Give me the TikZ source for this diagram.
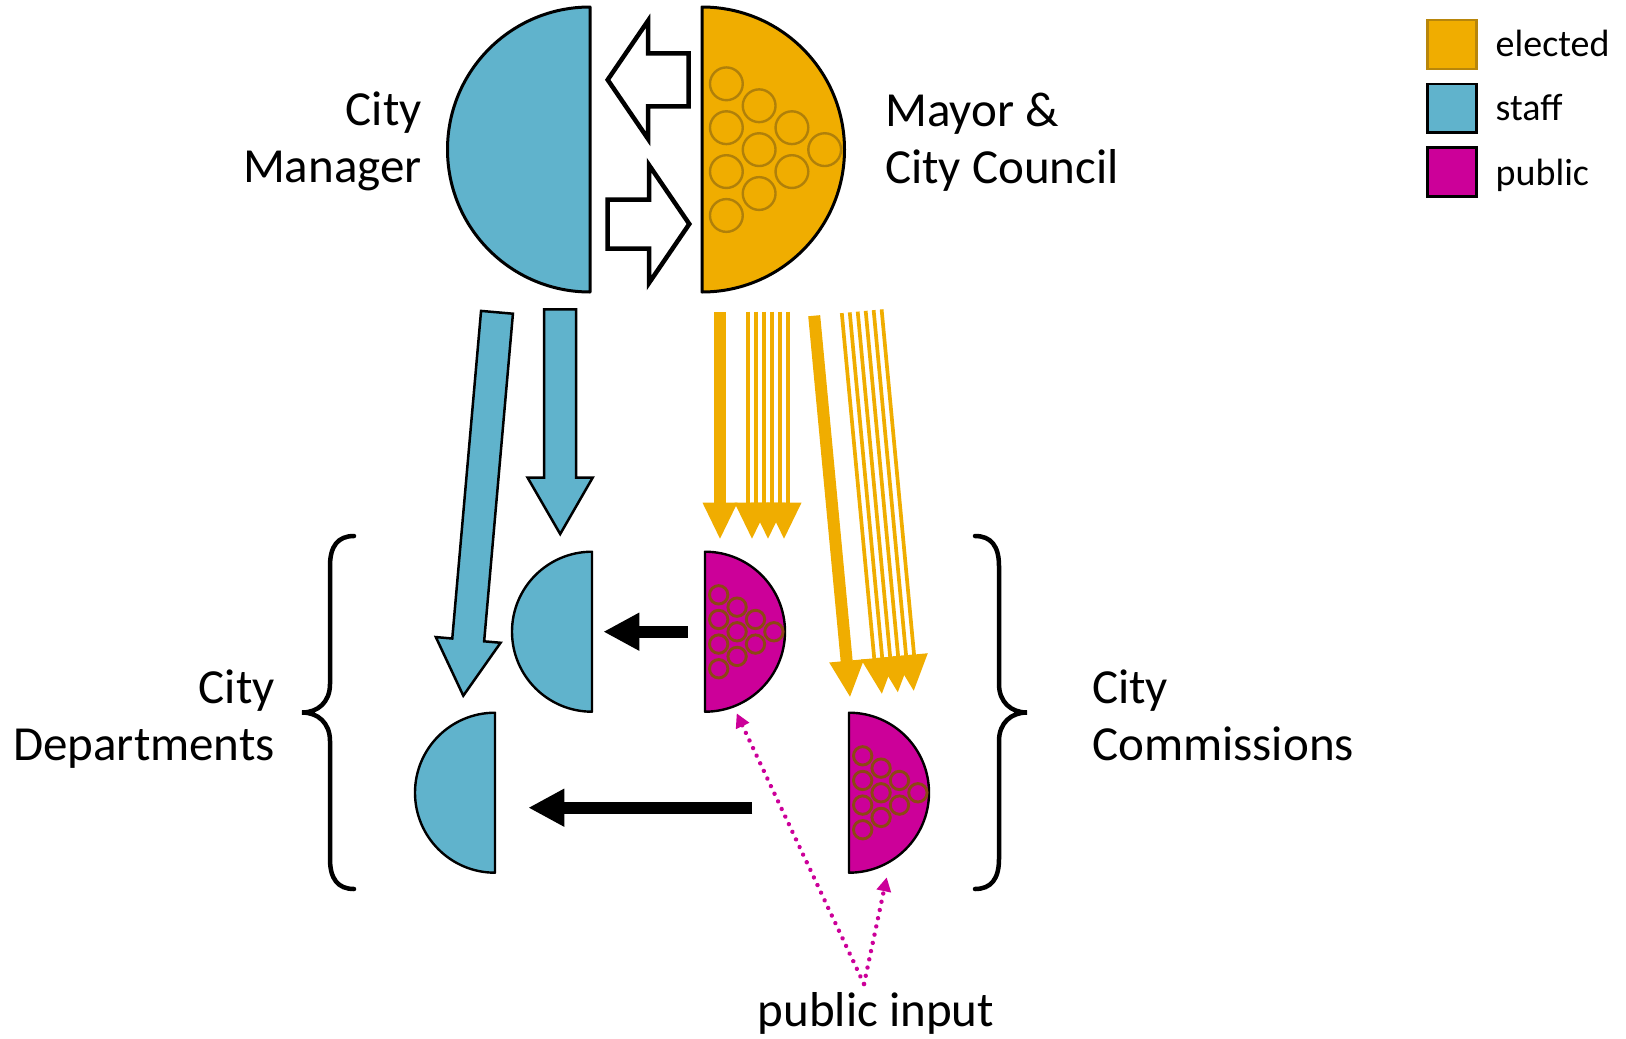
\documentclass[tikz,border=0pt]{standalone}
\usepackage{fontspec}
\setmainfont{Carlito}
\usetikzlibrary{calc,arrows.meta}
\definecolor{stf}{RGB}{96,179,204}
\definecolor{elc}{RGB}{240,173,0}
\definecolor{pub}{RGB}{204,0,153}
\definecolor{elcring}{RGB}{176,128,10}
\definecolor{pubring}{RGB}{140,72,20}
\definecolor{elcedge}{RGB}{184,134,11}

\newcommand\blockarrow[6]{%
  \coordinate (bah) at ($(#3)!#6!(#2)$);
  \filldraw[#1] ($(#2)!#4!90:(#3)$) -- ($(bah)!#4!90:(#3)$) -- ($(bah)!#5!90:(#3)$) -- (#3)
     -- ($(bah)!#5!-90:(#3)$) -- ($(bah)!#4!-90:(#3)$) -- ($(#2)!#4!-90:(#3)$) -- cycle;}

\newcommand\ringset[5]{%
  \foreach \c/\k in {0/0,0/1,0/2,0/3,1/0,1/1,1/2,2/0,2/1,3/0}
    \draw[#4, line width=#5] ({#1+#3*0.171+#3*0.230*\c}, {#2-#3*0.461+#3*0.154*\c+#3*0.308*\k}) circle[radius={#3*0.115pt}];}

\newcommand\halfleft[4]{%
  \draw[#4] (#1,#2-#3) arc[start angle=90,end angle=270,radius=#3pt] -- cycle;}
\newcommand\halfright[4]{%
  \draw[#4] (#1,#2-#3) arc[start angle=90,end angle=-90,radius=#3pt] -- cycle;}

\newcommand\orangegroup[1]{%
  \fill[elc] (-6,0) rectangle (6,#1-35);
  \fill[elc] (-17.5,#1-36) -- (17.5,#1-36) -- (0,#1) -- cycle;
  \foreach \i in {0,...,5}
    \draw[elc, line width=3.7pt] ({27.7+8*\i},0) -- ({27.7+8*\i},#1-35);
  \foreach \t in {32,48,64}
    \fill[elc] (\t-17.5,#1-36) -- (\t+17.5,#1-36) -- (\t,#1) -- cycle;}

\begin{document}
\begin{tikzpicture}[x=1pt,y=-1pt,
  lbl/.style={font=\fontsize{49}{57}\selectfont, inner sep=0pt},
  leg/.style={font=\fontsize{38}{46}\selectfont, inner sep=0pt},
  bigedge/.style={draw=black, line width=3pt, line join=round},
  smalledge/.style={draw=black, line width=2.4pt, line join=round},
  whitearrow/.style={draw=black, fill=white, line width=4.5pt, line join=miter},
  bluearrow/.style={draw=black, fill=stf, line width=2.5pt, line join=miter},
  blackarrow/.style={draw=black, line width=12pt, -{Triangle[length=36pt,width=35.5pt]}},
  pubarrow/.style={draw=pub, line width=4.4pt, line cap=round, dash pattern=on 0.01pt off 8.4pt,
     -{Triangle[length=14pt,width=14pt]}},
  legbox/.style={line width=2.6pt}]
\useasboundingbox (0,0) rectangle (1626,1039);

% ---- main shapes
\coordinate (cm) at (590,149.5);
\coordinate (mc) at (702,149.5);
\coordinate (d1) at (592,631.7);
\coordinate (d2) at (495,792.7);
\coordinate (c1) at (705,631.7);
\coordinate (c2) at (849,792.7);

\halfleft{590}{149.5}{142.5}{bigedge, fill=stf}
\halfright{702}{149.5}{142.5}{bigedge, fill=elc}
\ringset{702}{149.5}{142.5}{elcring}{2.4pt}

\halfleft{592}{631.7}{80}{smalledge, fill=stf}
\halfleft{495}{792.7}{80}{smalledge, fill=stf}
\halfright{705}{631.7}{80}{smalledge, fill=pub}
\ringset{705}{631.7}{80}{pubring}{2.9pt}
\halfright{849}{792.7}{80}{smalledge, fill=pub}
\ringset{849}{792.7}{80}{pubring}{2.9pt}

% ---- white arrows between manager and council
\coordinate (wa1) at (688.7,79.8);
\coordinate (wa1t) at (607.7,79.8);
\coordinate (wa2) at (607.7,224);
\coordinate (wa2t) at (689.3,224);
\blockarrow{whitearrow}{wa1}{wa1t}{26.5pt}{59pt}{40.3pt}
\blockarrow{whitearrow}{wa2}{wa2t}{24.5pt}{59pt}{40.3pt}

% ---- blue arrows
\coordinate (ba1) at (497,312.3);
\coordinate (ba1t) at (463.3,695.7);
\coordinate (ba2) at (560,309.3);
\coordinate (ba2t) at (560.2,534);
\blockarrow{bluearrow}{ba1}{ba1t}{16pt}{32.5pt}{56pt}
\blockarrow{bluearrow}{ba2}{ba2t}{16pt}{32.5pt}{56.3pt}

% ---- orange arrow groups
\begin{scope}[shift={(720,311.7)}]
  \orangegroup{227}
\end{scope}
\begin{scope}[shift={(814.2,315.7)}, rotate=5.37]
  \orangegroup{382.7}
\end{scope}

% ---- black arrows
\draw[blackarrow] ($(c1)+(-17.3,0)$) -- ($(d1)+(11.3,0)$);
\draw[blackarrow] ($(c2)+(-96.7,15)$) -- ($(d2)+(33.3,15)$);

% ---- braces
\draw[line width=4.5pt, line cap=round] (354,536) .. controls (338,536) and (330,546) .. (330,566) -- (330,684)
  .. controls (330,702) and (318,712.5) .. (302,712.5) .. controls (318,712.5) and (330,723) .. (330,741)
  -- (330,859) .. controls (330,879) and (338,889) .. (354,889);
\draw[line width=4.5pt, line cap=round] (975,536) .. controls (991,536) and (999,546) .. (999,566) -- (999,684)
  .. controls (999,702) and (1011,712.5) .. (1027,712.5) .. controls (1011,712.5) and (999,723) .. (999,741)
  -- (999,859) .. controls (999,879) and (991,889) .. (975,889);

% ---- labels (base anchor = last line)
\node[lbl, anchor=base east, align=right] (mgr) at (422,182) {City\\Manager};
\node[lbl, anchor=base west, align=left] (cou) at (885,183) {Mayor \&\\City Council};
\node[lbl, anchor=base east, align=right] (dep) at (275,760) {City\\Departments};
\node[lbl, anchor=base west, align=left] (com) at (1092,760) {City\\Commissions};
\node[lbl, anchor=base] (pin) at (876,1026) {public input};

% ---- public input arrows
\coordinate (pinsrc) at (864,984);
\coordinate (pt1) at (736.7,713.3);
\coordinate (pt2) at (886.7,877.3);
\draw[pubarrow] (pinsrc) -- (pt1);
\draw[pubarrow] (pinsrc) -- (pt2);

% ---- legend
\filldraw[legbox, draw=elcedge, fill=elc] (1427.3,20) rectangle (1476.7,69);
\filldraw[legbox, draw=black, fill=stf] (1427.3,84) rectangle (1476.7,132.7);
\filldraw[legbox, draw=black, fill=pub] (1427.3,147.7) rectangle (1476.7,196.7);
\node[leg, anchor=base west] (l1) at (1495.5,56) {elected};
\node[leg, anchor=base west] (l2) at (1495.5,120.7) {staff};
\node[leg, anchor=base west] (l3) at (1495.5,185) {public};
\end{tikzpicture}
\end{document}
